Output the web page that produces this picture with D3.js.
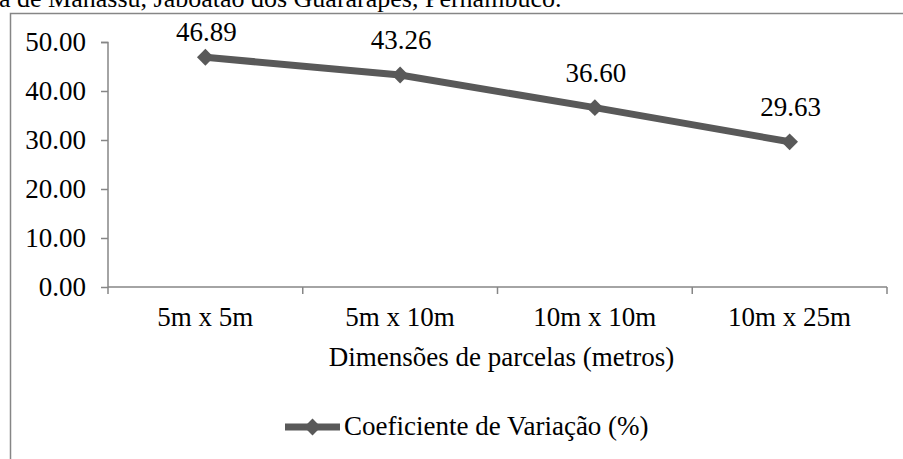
<!DOCTYPE html>
<html>
<head>
<meta charset="utf-8">
<script src="https://cdn.jsdelivr.net/npm/d3@7"></script>
<style>
  body { margin: 0; background: #fff; }
  svg text { font-family: 'Liberation Serif', Tinos, 'DejaVu Serif', serif !important; fill: #000; }
</style>
</head>
<body>
<svg id="chart"></svg>
<script>
const CATEGORIES = ['5m x 5m', '5m x 10m', '10m x 10m', '10m x 25m'];
const VALUES = [46.89, 43.26, 36.60, 29.63];
const Y_TICKS = [0, 10, 20, 30, 40, 50];
const TITLE = 'a de Manassu, Jaboatão dos Guararapes, Pernambuco.';
const X_TITLE = 'Dimensões de parcelas (metros)';
const SERIES_NAME = 'Coeficiente de Variação (%)';

const SVG_WIDTH = 903;
const SVG_HEIGHT = 459;
const MARGIN = { top: 42, right: 16, bottom: 172, left: 108 };
const WIDTH = SVG_WIDTH - MARGIN.left - MARGIN.right;
const HEIGHT = SVG_HEIGHT - MARGIN.top - MARGIN.bottom;

const LINE_COLOR = '#595959';
const AXIS_COLOR = '#868686';
const FONT_SIZE = 27;
const FONT = "'Liberation Serif', Tinos, 'DejaVu Serif', serif";

const svg = d3.select('#chart')
  .attr('width', SVG_WIDTH)
  .attr('height', SVG_HEIGHT)
  .attr('font-family', FONT);

// chart frame (cropped on right and bottom)
svg.append('rect')
  .attr('x', 10.5)
  .attr('y', 13.5)
  .attr('width', 1000)
  .attr('height', 600)
  .attr('fill', 'none')
  .attr('stroke', AXIS_COLOR)
  .attr('stroke-width', 1.5);

// title, cut off at the top like in the original figure
svg.append('text')
  .attr('x', -1)
  .attr('y', 7)
  .style('font-size', '26px')
  .text(TITLE);

const g = svg.append('g')
  .attr('transform', 'translate(' + MARGIN.left + ', ' + MARGIN.top + ')');

const x = d3.scaleBand().domain(CATEGORIES).range([0, WIDTH]);
const y = d3.scaleLinear().domain([0, 50]).range([HEIGHT, 0]);

// Y axis
const yAxis = g.append('g')
  .call(d3.axisLeft(y).tickValues(Y_TICKS).tickSize(7).tickPadding(15).tickFormat(d3.format('.2f')))
  .attr('font-family', FONT);
yAxis.selectAll('path, line').attr('stroke', AXIS_COLOR).attr('stroke-width', 1.5);
yAxis.select('.domain').attr('d', 'M-7,0.5H0V' + HEIGHT);
yAxis.selectAll('text')
  .style('font-size', FONT_SIZE + 'px')
  .attr('fill', '#000');

// X axis with tick marks at category boundaries
const xAxisG = g.append('g')
  .attr('transform', 'translate(0, ' + HEIGHT + ')');
xAxisG.append('line')
  .attr('x1', 0).attr('x2', WIDTH)
  .attr('stroke', AXIS_COLOR).attr('stroke-width', 1.5);
const bounds = CATEGORIES.map(c => x(c)).concat([WIDTH]);
xAxisG.selectAll('.bound')
  .data(bounds)
  .enter()
  .append('line')
    .attr('class', 'bound')
    .attr('x1', d => d).attr('x2', d => d)
    .attr('y1', 0).attr('y2', 7)
    .attr('stroke', AXIS_COLOR).attr('stroke-width', 1.5);
xAxisG.selectAll('.cat-label')
  .data(CATEGORIES)
  .enter()
  .append('text')
    .attr('class', 'cat-label')
    .attr('x', d => x(d) + x.bandwidth() / 2)
    .attr('y', 39)
    .attr('text-anchor', 'middle')
    .style('font-size', FONT_SIZE + 'px')
    .text(d => d);

// X title
g.append('text')
  .attr('x', WIDTH / 2 + 4)
  .attr('y', HEIGHT + 79)
  .attr('text-anchor', 'middle')
  .style('font-size', FONT_SIZE + 'px')
  .text(X_TITLE);

// line
const points = CATEGORIES.map((c, i) => ({ cx: x(c) + x.bandwidth() / 2, cy: y(VALUES[i]), v: VALUES[i] }));
g.append('path')
  .datum(points)
  .attr('fill', 'none')
  .attr('stroke', LINE_COLOR)
  .attr('stroke-width', 7)
  .attr('d', d3.line().x(d => d.cx).y(d => d.cy));

const diamond = d3.symbol().type(d3.symbolDiamond2).size(180);
g.selectAll('.marker')
  .data(points)
  .enter()
  .append('path')
    .attr('class', 'marker')
    .attr('transform', d => 'translate(' + d.cx + ', ' + d.cy + ')')
    .attr('d', diamond)
    .attr('fill', LINE_COLOR);

// data labels (first one pushed down by the plot top)
g.selectAll('.data-label')
  .data(points)
  .enter()
  .append('text')
    .attr('class', 'data-label')
    .attr('x', d => d.cx + 1)
    .attr('y', d => Math.max(d.cy - 26, -1))
    .attr('text-anchor', 'middle')
    .style('font-size', FONT_SIZE + 'px')
    .text(d => d.v.toFixed(2));

// legend
const legend = svg.append('g')
  .attr('transform', 'translate(285, 427)');
legend.append('line')
  .attr('x1', 0).attr('x2', 55)
  .attr('stroke', LINE_COLOR)
  .attr('stroke-width', 7);
legend.append('path')
  .attr('transform', 'translate(27.5, 0)')
  .attr('d', diamond)
  .attr('fill', LINE_COLOR);
legend.append('text')
  .attr('x', 59)
  .attr('y', 8)
  .style('font-size', FONT_SIZE + 'px')
  .text(SERIES_NAME);
</script>
</body>
</html>
